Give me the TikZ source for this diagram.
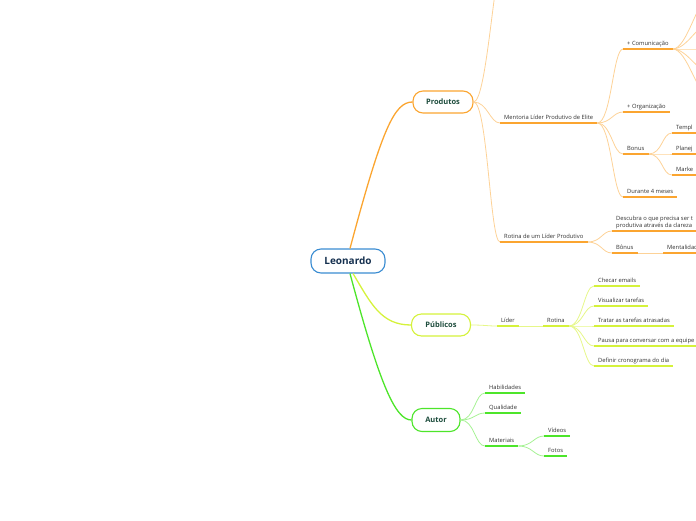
\documentclass[tikz,border=0pt]{standalone}
\usepackage{fontspec}
\setmainfont{Open Sans}
\usetikzlibrary{positioning}
\definecolor{orng}{HTML}{FBA530}
\definecolor{lime}{HTML}{D5F23B}
\definecolor{grn}{HTML}{4DE52A}
\definecolor{blu}{HTML}{3A8CD2}
\definecolor{txt}{HTML}{1E4D3D}
\definecolor{navy}{HTML}{15304F}
\definecolor{leaf}{HTML}{303030}

\begin{document}
\begin{tikzpicture}[x=1pt, y=-1pt,
      main/.style={draw, rounded corners=10pt, line width=1.1pt, fill=white, text=txt,
                   font=\bfseries\fontsize{7.5}{9}\selectfont, minimum height=22pt, inner sep=0pt},
      topic/.style={anchor=south west, inner xsep=4pt, inner ysep=1.5pt, text height=4.5pt,
                    text depth=1.5pt, text=leaf, font=\fontsize{5.8}{7}\selectfont},
      br/.style={out=0, in=180, out distance=14pt, in distance=10pt},
      cO/.style={orng!50, line width=0.8pt}, uO/.style={orng, line width=1.5pt},
      cL/.style={lime!60, line width=0.8pt}, uL/.style={lime, line width=1.5pt},
      cG/.style={grn!50, line width=0.8pt}, uG/.style={grn, line width=1.5pt}]
    \useasboundingbox (0,0) rectangle (696,520);
    \clip (0,0) rectangle (696,520);
    % central and main topics
    \node[main, draw=blu, text=navy, font=\bfseries\fontsize{10}{12}\selectfont,
          minimum width=74pt, minimum height=24pt] (leo) at (348,261) {Leonardo};
    \node[main, draw=orng, minimum width=60pt] (prod) at (443,102) {Produtos};
    \node[main, draw=lime, minimum width=59pt] (pub) at (441,325) {Públicos};
    \node[main, draw=grn, minimum width=48pt, minimum height=23pt] (aut) at (436,420) {Autor};
    \draw[orng, line width=1.3pt] ([xshift=2pt]leo.north) .. controls +(32,-120) and +(-18,0) .. (prod.west);
    \draw[lime, line width=1.3pt] ([xshift=5pt]leo.south) .. controls +(18,30) and +(-30,0) .. (pub.west);
    \draw[grn, line width=1.3pt] ([xshift=2pt]leo.south) .. controls +(30,112) and +(-16,0) .. (aut.west);
    % Produtos
    \node[topic] (ment) at (500,123) {Mentoria Líder Produtivo de Elite};
    \node[topic] (rotp) at (500,242) {Rotina de um Líder Produtivo};
    \node[topic] (com) at (623,49) {+ Comunicação};
    \node[topic] (org) at (623,112) {+ Organização};
    \node[topic] (bon) at (623,154) {Bonus};
    \node[topic] (dur) at (623,197) {Durante 4 meses};
    \node[topic] (templ) at (672,133) {Templ};
    \node[topic] (planej) at (672,154) {Planej};
    \node[topic] (marke) at (672,175) {Marke};
    \node[topic, align=left, text height=, text depth=] (desc) at (612,231)
          {Descubra o que precisa ser t\\produtiva através da clareza};
    \node[topic] (bon2) at (612,253) {Bônus};
    \node[topic] (ment2) at (663,253) {Mentalidad};
    \coordinate (prodtop) at (505,-50);
    \coordinate (com1) at (708,-2); \coordinate (com2) at (708,24); \coordinate (com3) at (708,49);
    \coordinate (com4) at (708,72); \coordinate (com5) at (708,96);
    \draw[cO] (prod.east) to[br] (prodtop);
    \draw[cO] (prod.east) to[br] (ment.south west);
    \draw[cO] (prod.east) to[br] (rotp.south west);
    \foreach \n in {com,org,bon,dur} \draw[cO] (ment.south east) to[br] (\n.south west);
    \foreach \n in {com1,com2,com3,com4,com5} \draw[cO] (com.south east) to[br] (\n);
    \foreach \n in {templ,planej,marke} \draw[cO] (bon.south east) to[br] (\n.south west);
    \draw[cO] (rotp.south east) to[br] (desc.south west);
    \draw[cO] (rotp.south east) to[br] (bon2.south west);
    \draw[cO] (bon2.south east) -- (ment2.south west);
    \foreach \n in {ment,rotp,com,org,bon,dur,templ,planej,marke,desc,bon2,ment2}
      \draw[uO] (\n.south west) -- (\n.south east);
    % Públicos
    \node[topic] (lider) at (497,326) {Líder};
    \node[topic] (rot) at (543,326) {Rotina};
    \node[topic] (chec) at (594,286) {Checar emails};
    \node[topic] (visu) at (594,306) {Visualizar tarefas};
    \node[topic] (trat) at (594,326) {Tratar as tarefas atrasadas};
    \node[topic] (paus) at (594,346) {Pausa para conversar com a equipe};
    \node[topic] (defi) at (594,366) {Definir cronograma do dia};
    \draw[cL] (pub.east) to[br] (lider.south west);
    \draw[cL] (lider.south east) -- (rot.south west);
    \foreach \n in {chec,visu,trat,paus,defi} \draw[cL] (rot.south east) to[br] (\n.south west);
    \foreach \n in {lider,rot,chec,visu,trat,paus,defi}
      \draw[uL] (\n.south west) -- (\n.south east);
    % Autor
    \node[topic] (hab) at (485,393) {Habilidades};
    \node[topic] (qual) at (485,413) {Qualidade};
    \node[topic] (mat) at (485,446) {Materiais};
    \node[topic] (vid) at (544,436) {Vídeos};
    \node[topic] (fot) at (544,456) {Fotos};
    \foreach \n in {hab,qual,mat} \draw[cG] (aut.east) to[br] (\n.south west);
    \foreach \n in {vid,fot} \draw[cG] (mat.south east) to[br] (\n.south west);
    \foreach \n in {hab,qual,mat,vid,fot}
      \draw[uG] (\n.south west) -- (\n.south east);
  \end{tikzpicture}
\end{document}
